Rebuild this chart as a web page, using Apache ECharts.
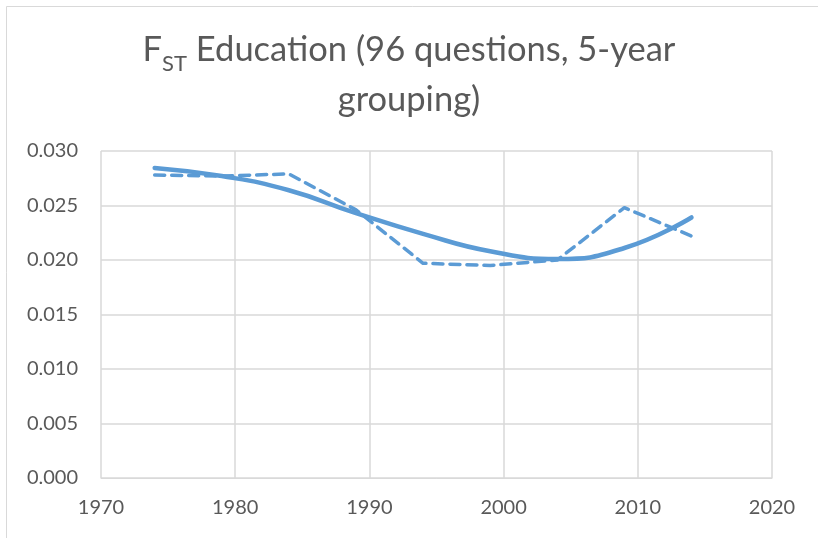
<!DOCTYPE html>
<html>
<head>
    <meta charset="utf-8">
    <script type="text/javascript" src="https://cdn.jsdelivr.net/npm/echarts@6/dist/echarts.min.js"></script>
    <style>
        body { margin: 0; background: #fff; }
    </style>
</head>
<body>
<div id="main" style="width:818px;height:538px"></div>
<script type="text/javascript">
    // 5-year grouping values (dashed line)
    var years = [1974, 1979, 1984, 1989, 1994, 1999, 2004, 2009, 2014];
    var fstValues = [0.0278, 0.0277, 0.0279, 0.0246, 0.0197, 0.0195, 0.0200, 0.0248, 0.0222];
    // trend line (solid thick curve)
    var trendYears = [1974, 1979, 1984, 1989, 1994, 1999, 2004, 2009, 2014];
    var trendValues = [0.02845, 0.0277, 0.0264, 0.0243, 0.0224, 0.0208, 0.0201, 0.0211, 0.0239];
    var xTicks = [1970, 1980, 1990, 2000, 2010, 2020];
    var yTicks = [0, 0.005, 0.010, 0.015, 0.020, 0.025, 0.030];

    function pairs(xs, ys) {
        var out = [];
        for (var i = 0; i < xs.length; i++) {
            out.push([xs[i], ys[i]]);
        }
        return out;
    }

    var font = 'Lato, "Liberation Sans", sans-serif';
    var grey = '#595959';
    var blue = '#5b9bd5';

    var myChart = echarts.init(document.getElementById('main'));
    var option = {
        animation: false,
        backgroundColor: '#fff',
        graphic: [{
            type: 'rect',
            shape: {x: 6.5, y: 6.5, width: 900, height: 700},
            style: {fill: 'none', stroke: '#d9d9d9', lineWidth: 1},
            silent: true
        }],
        title: {
            left: 'center',
            top: 20,
            text: '{f|F}{s|ST}{f| Education (96 questions, 5-year}\n{f|grouping)}',
            textStyle: {
                fontFamily: font,
                fontWeight: 'normal',
                rich: {
                    f: {fontFamily: font, fontWeight: 'normal', fontSize: 34.5, color: grey, lineHeight: 50, align: 'center'},
                    s: {fontFamily: font, fontWeight: 'normal', fontSize: 22, color: grey, verticalAlign: 'bottom', lineHeight: 40, align: 'center'}
                }
            }
        },
        grid: {left: 101, right: 46, top: 151, bottom: 60},
        xAxis: {
            type: 'value',
            min: xTicks[0],
            max: xTicks[xTicks.length - 1],
            interval: 10,
            axisLine: {show: true, lineStyle: {color: '#d9d9d9', width: 1}},
            axisTick: {show: false},
            splitLine: {show: true, lineStyle: {color: '#d9d9d9', width: 1.5}},
            axisLabel: {
                color: grey, fontSize: 20, fontFamily: font, margin: 20,
                formatter: function (v) { return String(v); }
            }
        },
        yAxis: {
            type: 'value',
            min: yTicks[0],
            max: yTicks[yTicks.length - 1],
            interval: 0.005,
            axisLine: {show: false},
            axisTick: {show: false},
            splitLine: {show: true, lineStyle: {color: '#d9d9d9', width: 1.5}},
            axisLabel: {
                color: grey, fontSize: 20, fontFamily: font, margin: 23,
                formatter: function (v) { return v.toFixed(3); }
            }
        },
        series: [{
            name: 'FST',
            type: 'line',
            data: pairs(years, fstValues),
            showSymbol: false,
            lineStyle: {color: blue, width: 3.5, type: [10, 7], cap: 'round', join: 'round'},
            z: 2
        }, {
            name: 'Trend',
            type: 'line',
            data: pairs(trendYears, trendValues),
            smooth: 0.5,
            showSymbol: false,
            lineStyle: {color: blue, width: 4.5, cap: 'round'},
            z: 3
        }]
    };
    myChart.setOption(option);
</script>
</body>
</html>
